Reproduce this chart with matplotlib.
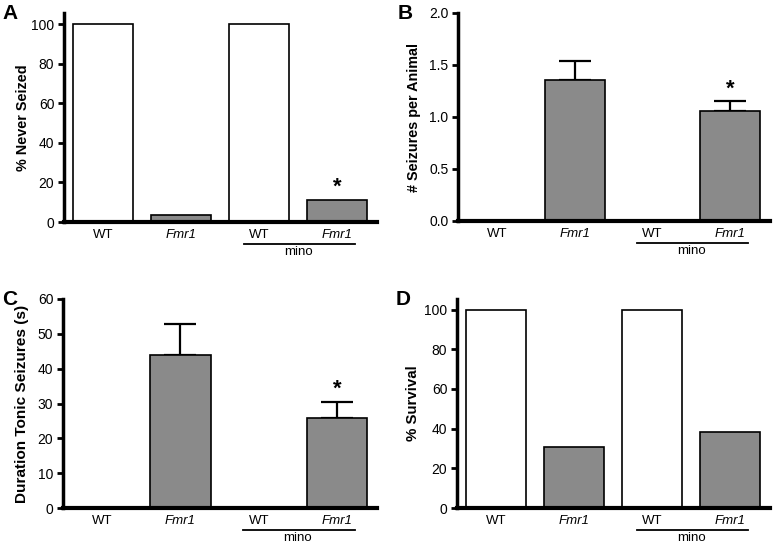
import matplotlib
matplotlib.use("Agg")
from matplotlib import pyplot as plt
import matplotlib.transforms as mtransforms

plt.rcParams['font.family'] = ['Liberation Sans', 'DejaVu Sans']

# Dados dos quatro painéis
groups = ["WT", "Fmr1", "WT", "Fmr1"]
bar_colors = ["white", "#8a8a8a", "white", "#8a8a8a"]

never_seized = [100, 3.6, 100, 11.2]
seizures_per_animal = [0, 1.36, 0, 1.06]
seizures_err = [0, 0.18, 0, 0.095]
duration_tonic = [0, 43.8, 0, 25.8]
duration_err = [0, 9.1, 0, 4.6]
survival = [100, 30.8, 100, 38.3]

W, H = 773, 544
fig = plt.figure(figsize=(W / 100, H / 100), dpi=100)


def box(left, right, top, bottom):
    # converte pixels para fração da figura
    return [left / W, 1 - bottom / H, (right - left) / W, (bottom - top) / H]


def panel(pos, values, errs, ylim, yticks, ticklabels, ylabel, letter,
          star=None, label_size=10.4, label_pad=6):
    ax = fig.add_axes(pos)
    x = range(len(values))
    ax.bar(x, values, width=0.77, color=bar_colors, edgecolor="black",
           linewidth=1.2, zorder=2)
    if errs is not None:
        for xi, v, e in zip(x, values, errs):
            if e > 0:
                ax.errorbar(xi, v, yerr=[[0], [e]], fmt="none", ecolor="black",
                            elinewidth=1.6, capsize=11.5, capthick=1.6, zorder=1)
    ax.set_xlim(-0.5, 3.51)
    ax.set_ylim(*ylim)
    ax.set_yticks(yticks)
    ax.set_yticklabels(ticklabels, fontsize=10)
    ax.set_xticks(list(x))
    ax.set_xticklabels(groups, fontsize=9.5)
    for lab, g in zip(ax.get_xticklabels(), groups):
        if g == "Fmr1":
            lab.set_style("italic")
    ax.tick_params(axis="x", length=0, pad=5)
    ax.tick_params(axis="y", length=4, width=2, pad=3)
    for s in ["top", "right"]:
        ax.spines[s].set_visible(False)
    ax.spines["left"].set_linewidth(2.5)
    ax.spines["bottom"].set_linewidth(3)
    ax.set_ylabel(ylabel, fontsize=label_size, fontweight="bold",
                  labelpad=label_pad)
    ax.text(-0.195, 1.045, letter, transform=ax.transAxes, fontsize=15,
            fontweight="bold", ha="left", va="top")
    # linha do grupo "mino"
    trans = mtransforms.blended_transform_factory(ax.transData, ax.transAxes)
    ax.plot([1.8, 3.23], [-0.105, -0.105], color="black", linewidth=1.3,
            transform=trans, clip_on=False)
    ax.text(2.5, -0.115, "mino", transform=trans, ha="center", va="top",
            fontsize=9.5)
    if star is not None:
        ax.text(3, star, "*", ha="center", va="bottom", fontsize=16,
                fontweight="bold")
    return ax


panel(box(64, 377, 13, 222), never_seized, None, (0, 105.6),
      [0, 20, 40, 60, 80, 100], ["0", "20", "40", "60", "80", "100"],
      "% Never Seized", "A", star=12.5, label_size=10.4, label_pad=0.5)
panel(box(458, 770, 13, 221), seizures_per_animal, seizures_err, (0, 2.0),
      [0, 0.5, 1.0, 1.5, 2.0], ["0.0", "0.5", "1.0", "1.5", "2.0"],
      "# Seizures per Animal", "B", star=1.17, label_size=10.4, label_pad=6)
panel(box(63, 377, 299, 508), duration_tonic, duration_err, (0, 60),
      [0, 10, 20, 30, 40, 50, 60], ["0", "10", "20", "30", "40", "50", "60"],
      "Duration Tonic Seizures (s)", "C", star=31.2, label_size=11.1,
      label_pad=6)
panel(box(457, 770, 299, 508), survival, None, (0, 105.3),
      [0, 20, 40, 60, 80, 100], ["0", "20", "40", "60", "80", "100"],
      "% Survival", "D", label_size=10.8, label_pad=3)

fig.savefig("out.png", dpi=100)
